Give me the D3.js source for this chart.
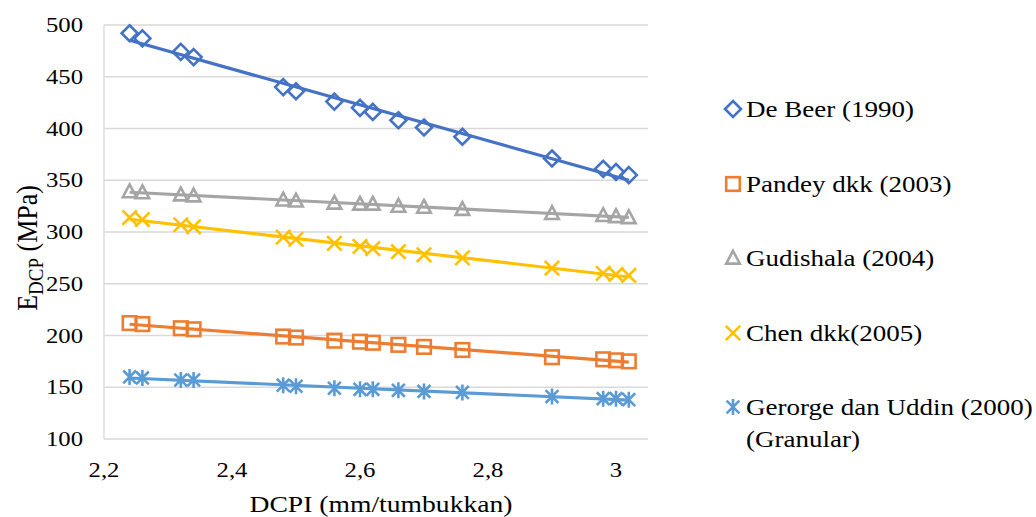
<!DOCTYPE html>
<html>
<head>
<meta charset="utf-8">
<script src="https://cdn.jsdelivr.net/npm/d3@7"></script>
<style>
  body { margin: 0; background: #fff; }
  svg text { font-family: 'Liberation Serif', 'Times New Roman', Times, 'DejaVu Serif', serif; fill: #000; }
</style>
</head>
<body>
<svg width="1036" height="517"></svg>
<script>
const svg = d3.select('svg');

// data
const dcpi = [2.24, 2.26, 2.32, 2.34, 2.48, 2.5, 2.56, 2.6, 2.62, 2.66, 2.7, 2.76, 2.9, 2.98, 3.0, 3.02];
const deBeer = [492, 487, 474, 469, 440, 436, 426, 420, 416, 408, 401, 392, 371, 361, 358, 355];
const pandey = [212, 211, 207, 206, 199, 198, 195, 194, 193, 191, 189, 186, 179, 177, 176, 175];
const gudishala = [339, 338, 336, 335, 331, 330, 328, 327, 327, 325, 324, 322, 318, 316, 315, 314];
const chen = [314, 312, 307, 305, 295, 293, 289, 286, 284, 281, 278, 275, 265, 260, 259, 258];
const george = [160, 159, 157, 157, 152, 151, 149, 148, 148, 147, 146, 145, 141, 139, 139, 138];

const seriesNames = ['De Beer (1990)', 'Pandey dkk (2003)', 'Gudishala (2004)', 'Chen dkk(2005)', 'Gerorge dan Uddin (2000)'];
const seriesColors = ['#4472C4', '#ED7D31', '#A5A5A5', '#FFC000', '#5B9BD5'];
const seriesSymbols = ['diamond', 'square', 'triangle', 'cross', 'asterisk'];
const seriesValues = [deBeer, pandey, gudishala, chen, george];

const xTicks = [2.2, 2.4, 2.6, 2.8, 3.0];
const yTicks = [100, 150, 200, 250, 300, 350, 400, 450, 500];

const x = d3.scaleLinear().domain([2.2, 3.05]).range([104, 648]);
const y = d3.scaleLinear().domain([100, 500]).range([439, 25]);

const fmt = d => d3.format('')(d).replace('.', ',');
const stretch = 1.15; // text in the picture is a little wide

// text helper: anchored at (tx, ty), widened horizontally
function label(parent, tx, ty, str, size, anchor) {
  return parent.append('g')
    .attr('transform', `translate(${tx},${ty}) scale(${stretch},1)`)
    .append('text')
      .attr('text-anchor', anchor || 'start')
      .attr('font-size', size)
      .text(str);
}

// grid
svg.append('g')
  .selectAll('line')
  .data(yTicks)
  .join('line')
    .attr('x1', x(2.2)).attr('x2', x(3.05))
    .attr('y1', d => y(d)).attr('y2', d => y(d))
    .attr('stroke', '#d9d9d9').attr('stroke-width', 1.3);

svg.append('line')
  .attr('x1', x(2.2)).attr('x2', x(2.2))
  .attr('y1', y(100)).attr('y2', y(500))
  .attr('stroke', '#d9d9d9').attr('stroke-width', 1.3);

// tick labels
yTicks.forEach(d => label(svg, 83, y(d) + 7, d, 21.5, 'end'));
xTicks.forEach(d => label(svg, x(d), 477, fmt(d), 21.5, 'middle'));

// axis titles
label(svg, 381, 512, 'DCPI (mm/tumbukkan)', 24, 'middle');

const yt = svg.append('g')
  .attr('transform', `translate(37,248) scale(${stretch},1) rotate(-90)`)
  .append('text')
    .attr('text-anchor', 'middle')
    .attr('font-size', 26);
yt.append('tspan').text('E');
yt.append('tspan').attr('font-size', 19).attr('dy', 5).text('DCP');
yt.append('tspan').attr('dy', -5).text(' (MPa)');

// marker drawing
function marker(sel, type, s, color) {
  sel.attr('fill', 'none').attr('stroke', color).attr('stroke-width', 2.6);
  if (type === 'diamond') {
    sel.append('path').attr('d', `M0,${-s}L${s},0L0,${s}L${-s},0Z`);
  } else if (type === 'square') {
    sel.append('rect').attr('x', -s * 0.85).attr('y', -s * 0.85).attr('width', s * 1.7).attr('height', s * 1.7);
  } else if (type === 'triangle') {
    sel.append('path').attr('d', `M0,${-s * 0.9}L${s * 0.85},${s * 0.7}L${-s * 0.85},${s * 0.7}Z`);
  } else if (type === 'cross') {
    const c = s * 0.9;
    sel.append('path').attr('d', `M${-c},${-c}L${c},${c}M${c},${-c}L${-c},${c}`);
  } else {
    const c = s * 0.8;
    sel.append('path').attr('d', `M${-c},${-c}L${c},${c}M${c},${-c}L${-c},${c}M0,${-s}L0,${s}`);
  }
}

// linear trendlines + markers
seriesValues.forEach((vals, i) => {
  const mx = d3.mean(dcpi), my = d3.mean(vals);
  const slope = d3.sum(dcpi, (d, j) => (d - mx) * (vals[j] - my)) / d3.sum(dcpi, d => (d - mx) ** 2);
  const icpt = my - slope * mx;
  const ends = d3.extent(dcpi);

  svg.append('line')
    .attr('x1', x(ends[0])).attr('y1', y(icpt + slope * ends[0]))
    .attr('x2', x(ends[1])).attr('y2', y(icpt + slope * ends[1]))
    .attr('stroke', seriesColors[i]).attr('stroke-width', 3.2);

  svg.append('g')
    .selectAll('g')
    .data(dcpi)
    .join('g')
      .attr('transform', (d, j) => `translate(${x(d)},${y(vals[j])})`)
      .each(function () { marker(d3.select(this), seriesSymbols[i], 8, seriesColors[i]); });
});

// legend
const legendY = [109, 184, 258, 333, 407];
seriesNames.forEach((name, i) => {
  const g = svg.append('g').attr('transform', `translate(733,${legendY[i]})`);
  marker(g, seriesSymbols[i], 8, seriesColors[i]);
  label(svg, 746, legendY[i] + 8, name, 23.5);
});
label(svg, 746, 447, '(Granular)', 23.5);
</script>
</body>
</html>
